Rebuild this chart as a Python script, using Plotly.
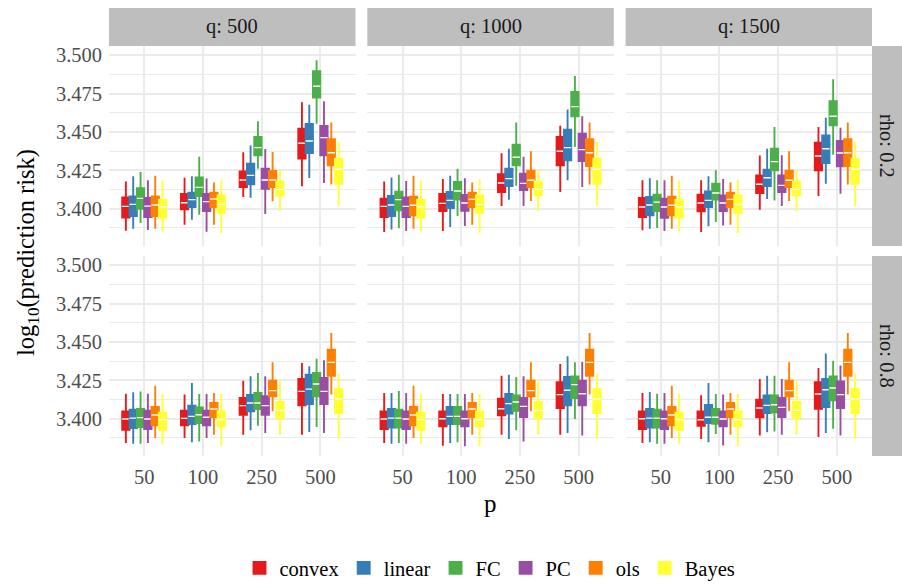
import plotly.graph_objects as go

# ---------------- data ----------------
P_LABELS = ['50', '100', '250', '500']
METHODS = ['convex', 'linear', 'FC', 'PC', 'ols', 'Bayes']
COLORS = ['#E41A1C', '#377EB8', '#4DAF4A', '#984EA3', '#FF7F00', '#FFFF33']
Q_LABELS = ['q: 500', 'q: 1000', 'q: 1500']
RHO_LABELS = ['rho: 0.2', 'rho: 0.8']
Y_TICKS = [3.400, 3.425, 3.450, 3.475, 3.500]

# each entry: (lower whisker, Q1, median, Q3, upper whisker) for p = 50, 100, 250, 500
q500_rho02 = {
    'convex': [(3.3857, 3.3943, 3.4015, 3.4074, 3.4178), (3.3896, 3.3996, 3.4039, 3.4096, 3.4202),
               (3.4076, 3.4141, 3.4187, 3.4243, 3.4367), (3.4146, 3.4326, 3.4426, 3.4522, 3.4693)],
    'linear': [(3.3870, 3.3952, 3.4028, 3.4080, 3.4211), (3.3928, 3.4011, 3.4059, 3.4104, 3.4211),
               (3.4072, 3.4159, 3.4217, 3.4293, 3.4411), (3.4200, 3.4363, 3.4441, 3.4552, 3.4678)],
    'FC':     [(3.3907, 3.4000, 3.4067, 3.4133, 3.4239), (3.3961, 3.4083, 3.4139, 3.4204, 3.4339),
               (3.4261, 3.4348, 3.4398, 3.4467, 3.4570), (3.4554, 3.4724, 3.4798, 3.4896, 3.4967)],
    'PC':     [(3.3861, 3.3946, 3.4017, 3.4070, 3.4185), (3.3850, 3.3985, 3.4046, 3.4096, 3.4196),
               (3.3965, 3.4130, 3.4187, 3.4261, 3.4389), (3.4167, 3.4348, 3.4463, 3.4539, 3.4700)],
    'ols':    [(3.3870, 3.3952, 3.4024, 3.4080, 3.4215), (3.3896, 3.4011, 3.4063, 3.4104, 3.4170),
               (3.4048, 3.4141, 3.4187, 3.4246, 3.4370), (3.4157, 3.4283, 3.4365, 3.4452, 3.4561)],
    'Bayes':  [(3.3852, 3.3941, 3.4013, 3.4057, 3.4183), (3.3841, 3.3974, 3.4028, 3.4087, 3.4189),
               (3.3983, 3.4085, 3.4124, 3.4176, 3.4250), (3.4017, 3.4163, 3.4257, 3.4326, 3.4435)],
}

q1000_rho02 = {
    'convex': [(3.3848, 3.3946, 3.4015, 3.4065, 3.4178), (3.3854, 3.3985, 3.4035, 3.4096, 3.4193),
               (3.4017, 3.4109, 3.4167, 3.4224, 3.4361), (3.4109, 3.4283, 3.4374, 3.4467, 3.4541)],
    'linear': [(3.3865, 3.3952, 3.4024, 3.4083, 3.4204), (3.3880, 3.4004, 3.4054, 3.4109, 3.4215),
               (3.4059, 3.4148, 3.4196, 3.4261, 3.4391), (3.4185, 3.4315, 3.4398, 3.4515, 3.4646)],
    'FC':     [(3.3872, 3.3989, 3.4059, 3.4111, 3.4222), (3.3952, 3.4059, 3.4115, 3.4174, 3.4261),
               (3.4150, 3.4283, 3.4335, 3.4417, 3.4561), (3.4402, 3.4602, 3.4665, 3.4761, 3.4865)],
    'PC':     [(3.3854, 3.3946, 3.4015, 3.4074, 3.4180), (3.3887, 3.3987, 3.4037, 3.4089, 3.4198),
               (3.4017, 3.4122, 3.4165, 3.4228, 3.4339), (3.4141, 3.4311, 3.4385, 3.4489, 3.4602)],
    'ols':    [(3.3870, 3.3957, 3.4022, 3.4078, 3.4215), (3.3896, 3.4011, 3.4061, 3.4104, 3.4170),
               (3.4050, 3.4141, 3.4185, 3.4248, 3.4374), (3.4157, 3.4278, 3.4365, 3.4452, 3.4561)],
    'Bayes':  [(3.3852, 3.3941, 3.4013, 3.4057, 3.4183), (3.3841, 3.3974, 3.4028, 3.4087, 3.4191),
               (3.3983, 3.4087, 3.4126, 3.4176, 3.4250), (3.4017, 3.4163, 3.4257, 3.4326, 3.4435)],
}

q1500_rho02 = {
    'convex': [(3.3859, 3.3946, 3.4011, 3.4070, 3.4185), (3.3848, 3.3983, 3.4037, 3.4091, 3.4185),
               (3.3993, 3.4102, 3.4159, 3.4217, 3.4346), (3.4083, 3.4250, 3.4343, 3.4430, 3.4533)],
    'linear': [(3.3870, 3.3957, 3.4024, 3.4076, 3.4198), (3.3885, 3.4011, 3.4054, 3.4113, 3.4211),
               (3.4063, 3.4148, 3.4202, 3.4254, 3.4391), (3.4163, 3.4298, 3.4391, 3.4478, 3.4593)],
    'FC':     [(3.3874, 3.3985, 3.4043, 3.4091, 3.4185), (3.3913, 3.4059, 3.4102, 3.4163, 3.4250),
               (3.4054, 3.4250, 3.4307, 3.4391, 3.4533), (3.4352, 3.4543, 3.4602, 3.4700, 3.4843)],
    'PC':     [(3.3854, 3.3941, 3.4011, 3.4065, 3.4185), (3.3891, 3.3985, 3.4037, 3.4087, 3.4193),
               (3.4017, 3.4109, 3.4152, 3.4217, 3.4348), (3.4098, 3.4276, 3.4363, 3.4441, 3.4528)],
    'ols':    [(3.3870, 3.3957, 3.4022, 3.4078, 3.4215), (3.3896, 3.4011, 3.4061, 3.4104, 3.4170),
               (3.4050, 3.4141, 3.4185, 3.4248, 3.4374), (3.4157, 3.4278, 3.4365, 3.4452, 3.4561)],
    'Bayes':  [(3.3852, 3.3941, 3.4013, 3.4057, 3.4183), (3.3841, 3.3974, 3.4028, 3.4087, 3.4191),
               (3.3983, 3.4087, 3.4126, 3.4176, 3.4250), (3.4017, 3.4163, 3.4257, 3.4326, 3.4435)],
}

q500_rho08 = {
    'convex': [(3.3841, 3.3928, 3.3998, 3.4048, 3.4163), (3.3874, 3.3957, 3.4002, 3.4052, 3.4157),
               (3.3896, 3.4026, 3.4085, 3.4135, 3.4248), (3.3896, 3.4087, 3.4178, 3.4259, 3.4363)],
    'linear': [(3.3837, 3.3939, 3.4004, 3.4059, 3.4172), (3.3846, 3.3965, 3.4015, 3.4085, 3.4233),
               (3.3924, 3.4048, 3.4102, 3.4154, 3.4276), (3.3913, 3.4096, 3.4193, 3.4287, 3.4341)],
    'FC':     [(3.3837, 3.3946, 3.4007, 3.4063, 3.4178), (3.3852, 3.3972, 3.4026, 3.4074, 3.4161),
               (3.3954, 3.4063, 3.4102, 3.4167, 3.4298), (3.3946, 3.4146, 3.4226, 3.4298, 3.4391)],
    'PC':     [(3.3841, 3.3933, 3.3998, 3.4052, 3.4163), (3.3874, 3.3957, 3.4009, 3.4052, 3.4161),
               (3.3907, 3.4026, 3.4085, 3.4146, 3.4276), (3.3907, 3.4096, 3.4178, 3.4265, 3.4380)],
    'ols':    [(3.3874, 3.3957, 3.4024, 3.4076, 3.4215), (3.3896, 3.4011, 3.4063, 3.4102, 3.4167),
               (3.4048, 3.4146, 3.4183, 3.4248, 3.4367), (3.4157, 3.4280, 3.4367, 3.4450, 3.4559)],
    'Bayes':  [(3.3837, 3.3928, 3.3993, 3.4039, 3.4163), (3.3820, 3.3950, 3.3993, 3.4048, 3.4161),
               (3.3896, 3.4004, 3.4054, 3.4109, 3.4243), (3.3870, 3.4037, 3.4128, 3.4193, 3.4293)],
}

q1000_rho08 = {
    'convex': [(3.3841, 3.3933, 3.3998, 3.4048, 3.4167), (3.3824, 3.3950, 3.4000, 3.4048, 3.4161),
               (3.3896, 3.4022, 3.4065, 3.4130, 3.4280), (3.3896, 3.4070, 3.4157, 3.4237, 3.4357)],
    'linear': [(3.3837, 3.3943, 3.4004, 3.4063, 3.4167), (3.3841, 3.3965, 3.4015, 3.4076, 3.4161),
               (3.3867, 3.4033, 3.4098, 3.4161, 3.4287), (3.3907, 3.4087, 3.4185, 3.4272, 3.4407)],
    'FC':     [(3.3841, 3.3943, 3.4004, 3.4059, 3.4180), (3.3846, 3.3965, 3.4015, 3.4076, 3.4161),
               (3.3924, 3.4052, 3.4109, 3.4152, 3.4272), (3.3998, 3.4135, 3.4222, 3.4276, 3.4367)],
    'PC':     [(3.3837, 3.3933, 3.3998, 3.4048, 3.4167), (3.3820, 3.3950, 3.4000, 3.4048, 3.4161),
               (3.3852, 3.4011, 3.4080, 3.4135, 3.4276), (3.3891, 3.4087, 3.4163, 3.4248, 3.4370)],
    'ols':    [(3.3874, 3.3957, 3.4024, 3.4076, 3.4215), (3.3896, 3.4011, 3.4063, 3.4102, 3.4167),
               (3.4048, 3.4146, 3.4183, 3.4248, 3.4367), (3.4157, 3.4280, 3.4367, 3.4450, 3.4559)],
    'Bayes':  [(3.3837, 3.3928, 3.3993, 3.4039, 3.4163), (3.3820, 3.3950, 3.3993, 3.4048, 3.4161),
               (3.3896, 3.4004, 3.4054, 3.4109, 3.4243), (3.3870, 3.4037, 3.4128, 3.4193, 3.4293)],
}

q1500_rho08 = {
    'convex': [(3.3841, 3.3933, 3.4000, 3.4048, 3.4167), (3.3867, 3.3954, 3.3993, 3.4048, 3.4152),
               (3.3891, 3.4009, 3.4070, 3.4124, 3.4259), (3.3880, 3.4065, 3.4161, 3.4237, 3.4330)],
    'linear': [(3.3846, 3.3943, 3.4004, 3.4063, 3.4174), (3.3846, 3.3972, 3.4009, 3.4089, 3.4233),
               (3.3911, 3.4037, 3.4087, 3.4152, 3.4280), (3.3907, 3.4076, 3.4189, 3.4259, 3.4424)],
    'FC':     [(3.3837, 3.3943, 3.4004, 3.4059, 3.4163), (3.3900, 3.3967, 3.4009, 3.4063, 3.4161),
               (3.3917, 3.4041, 3.4091, 3.4152, 3.4280), (3.3935, 3.4120, 3.4200, 3.4276, 3.4378)],
    'PC':     [(3.3837, 3.3933, 3.4000, 3.4048, 3.4167), (3.3826, 3.3950, 3.3998, 3.4048, 3.4157),
               (3.3896, 3.4011, 3.4074, 3.4135, 3.4259), (3.3891, 3.4070, 3.4157, 3.4243, 3.4346)],
    'ols':    [(3.3874, 3.3957, 3.4024, 3.4076, 3.4215), (3.3896, 3.4011, 3.4063, 3.4102, 3.4167),
               (3.4048, 3.4146, 3.4183, 3.4248, 3.4367), (3.4157, 3.4280, 3.4367, 3.4450, 3.4559)],
    'Bayes':  [(3.3837, 3.3928, 3.3993, 3.4039, 3.4163), (3.3820, 3.3950, 3.3993, 3.4048, 3.4161),
               (3.3896, 3.4004, 3.4054, 3.4109, 3.4243), (3.3870, 3.4037, 3.4128, 3.4193, 3.4293)],
}

PANELS = [[q500_rho02, q1000_rho02, q1500_rho02],
          [q500_rho08, q1000_rho08, q1500_rho08]]

# ---------------- layout geometry ----------------
FONT = 'Liberation Serif'
W, H = 902, 584
ML, MR, MT, MB = 109, 30, 46, 128
PW = W - ML - MR      # plot area width
PH = H - MT - MB      # plot area height
panel_w = 246.5
col_left = [0, 258.3, 516.6]
x_domains = [[l / PW, min(1.0, (l + panel_w) / PW)] for l in col_left]
y_domains = [[210 / PH, 1.0], [0.0, 200 / PH]]  # row 0 = top

fig = go.Figure()

for r in range(2):
    for c in range(3):
        k = r * 3 + c + 1
        xa = 'x' if k == 1 else f'x{k}'
        ya = 'y' if k == 1 else f'y{k}'
        data = PANELS[r][c]
        for m, col in zip(METHODS, COLORS):
            st = data[m]
            lo = [s[0] for s in st]
            q1 = [s[1] for s in st]
            md = [s[2] for s in st]
            q3 = [s[3] for s in st]
            hi = [s[4] for s in st]
            fig.add_trace(go.Box(
                x=P_LABELS, q1=q1, median=md, q3=q3, lowerfence=lo, upperfence=hi,
                name=m, legendgroup=m, showlegend=(k == 1),
                marker_color=col, fillcolor=col, line=dict(color=col, width=1.9),
                whiskerwidth=0, boxpoints=False, offsetgroup=m, alignmentgroup='all',
                xaxis=xa, yaxis=ya))
            fig.add_trace(go.Box(
                x=P_LABELS, q1=md, median=md, q3=md, lowerfence=md, upperfence=md,
                name=m, legendgroup=m, showlegend=False,
                fillcolor='white', line=dict(color='white', width=1.4),
                whiskerwidth=0, boxpoints=False, offsetgroup=m, alignmentgroup='all',
                hoverinfo='skip', xaxis=xa, yaxis=ya))

        axis_common = dict(showline=False, zeroline=False, ticks='', automargin=False,
                           gridcolor='#EBEBEB', gridwidth=1.6)
        fig.layout[f'xaxis{k}' if k > 1 else 'xaxis'] = dict(
            axis_common, domain=x_domains[c], anchor=ya,
            type='category', categoryorder='array', categoryarray=P_LABELS,
            range=[-0.6, 3.6], showticklabels=(r == 1),
            tickfont=dict(family=FONT, size=20.5, color='#4D4D4D'),
            ticklabelstandoff=6)
        fig.layout[f'yaxis{k}' if k > 1 else 'yaxis'] = dict(
            axis_common, domain=y_domains[r], anchor=xa,
            range=[3.3757, 3.5060], tickvals=Y_TICKS,
            ticktext=[f'{v:.3f}' for v in Y_TICKS],
            showticklabels=(c == 0),
            tickfont=dict(family=FONT, size=20.5, color='#4D4D4D'),
            ticklabelstandoff=6,
            minor=dict(dtick=0.0125, tick0=3.3875, showgrid=True,
                       gridcolor='#EBEBEB', gridwidth=0.9))

shapes = []
annotations = []
strip_top = (PH + MT - 8) / PH
for c in range(3):
    shapes.append(dict(type='rect', xref='paper', yref='paper',
                       x0=x_domains[c][0], x1=x_domains[c][1], y0=1.0, y1=strip_top,
                       fillcolor='#BEBEBE', line=dict(width=0), layer='below'))
    annotations.append(dict(xref='paper', yref='paper',
                            x=(x_domains[c][0] + x_domains[c][1]) / 2, y=(1.0 + strip_top) / 2,
                            text=Q_LABELS[c], showarrow=False,
                            font=dict(family=FONT, size=20.5, color='#1A1A1A'),
                            xanchor='center', yanchor='middle'))
strip_right = (W - ML) / PW
for r in range(2):
    shapes.append(dict(type='rect', xref='paper', yref='paper',
                       x0=1.0, x1=strip_right, y0=y_domains[r][0], y1=y_domains[r][1],
                       fillcolor='#BEBEBE', line=dict(width=0), layer='below'))
    annotations.append(dict(xref='paper', yref='paper',
                            x=(1.0 + strip_right) / 2, y=(y_domains[r][0] + y_domains[r][1]) / 2,
                            text=RHO_LABELS[r], showarrow=False, textangle=90,
                            font=dict(family=FONT, size=20.5, color='#1A1A1A'),
                            xanchor='center', yanchor='middle'))

annotations.append(dict(xref='paper', yref='paper', x=(490 - ML) / PW, y=(PH + MT - 503) / PH,
                        text='p', showarrow=False, xanchor='center', yanchor='middle',
                        font=dict(family=FONT, size=25, color='black')))
annotations.append(dict(xref='paper', yref='paper', x=(27 - ML) / PW, y=(PH + MT - 253) / PH,
                        text='log<sub>10</sub>(prediction risk)', showarrow=False,
                        textangle=-90, xanchor='center', yanchor='middle',
                        font=dict(family=FONT, size=24.5, color='black')))

fig.update_layout(
    width=W, height=H,
    margin=dict(l=ML, r=MR, t=MT, b=MB, pad=0, autoexpand=False),
    paper_bgcolor='white', plot_bgcolor='white',
    boxmode='group', boxgap=0.25, boxgroupgap=0,
    shapes=shapes, annotations=annotations,
    showlegend=True,
    legend=dict(orientation='h', x=(490 - ML) / PW, xanchor='center',
                y=(PH + MT - 568) / PH, yanchor='middle',
                font=dict(family=FONT, size=20.5, color='black'),
                itemwidth=30, traceorder='normal'),
    font=dict(family=FONT),
)

fig.write_html('out.html', config={'displayModeBar': False},
               post_script="document.body.style.margin='0';document.body.style.padding='0';"
                           "document.body.style.overflow='hidden';")
